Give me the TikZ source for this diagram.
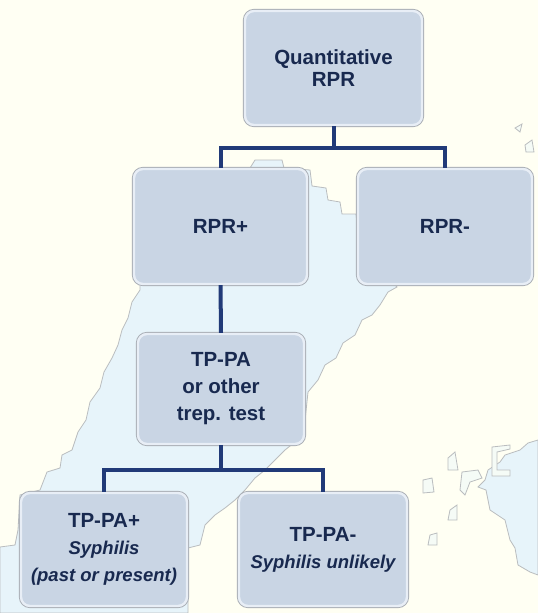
\documentclass[tikz,border=0pt]{standalone}
\usepackage{fontspec}
\setmainfont{Liberation Sans}
\definecolor{bgcream}{HTML}{FFFFF3}
\definecolor{mapblue}{HTML}{E7F4FA}
\definecolor{mapedge}{HTML}{BABDBF}
\definecolor{boxfill}{HTML}{C9D5E4}
\definecolor{boxwhite}{HTML}{E8EEF6}
\definecolor{boxedge}{HTML}{A8ADB4}
\definecolor{txt}{HTML}{18294F}
\definecolor{conncol}{HTML}{213A78}
\newcommand{\itlfont}{\fontsize{18.5}{27}\selectfont\bfseries\itshape}
\tikzset{
  boxnode/.style={rounded corners=9pt, fill=boxfill, draw=boxwhite, line width=2.4pt,
    preaction={draw=boxedge, line width=4.2pt}, text=txt, align=center, inner sep=0pt,
    font=\fontsize{20.5}{27}\selectfont\bfseries},
  conn/.style={draw=conncol, line width=4pt},
  landmass/.style={fill=mapblue, draw=mapedge, line width=0.8pt},
  islet/.style={fill=bgcream!60!mapblue, draw=mapedge, line width=0.8pt}
}
\begin{document}
\begin{tikzpicture}[x=1pt,y=-1pt]
\fill[bgcream] (0,0) rectangle (538,613);
\useasboundingbox (0,0) rectangle (538,613);
% map background
\path[landmass] (250,168) -- (255,160) -- (282,160) -- (284,168) -- (310,170) -- (312,186) -- (326,188)
  -- (328,200) -- (340,202) -- (342,214) -- (356,214) -- (360,250) -- (397,287) -- (388,292)
  -- (380,305) -- (372,315) -- (362,320) -- (355,335) -- (343,343) -- (336,358) -- (325,365)
  -- (318,380) -- (308,392) -- (303,440) -- (295,442) -- (285,450) -- (275,460) -- (265,470)
  -- (255,478) -- (245,490) -- (235,500) -- (225,508) -- (215,515) -- (205,525) -- (200,545)
  -- (188,548) -- (188,613) -- (0,613) -- (0,547) -- (15,545) -- (18,530) -- (20,495)
  -- (40,490) -- (47,472) -- (60,468) -- (62,455) -- (72,450) -- (78,432) -- (86,420)
  -- (90,402) -- (100,388) -- (104,372) -- (112,358) -- (118,345) -- (122,330) -- (128,318)
  -- (132,302) -- (140,290) -- (140,250) -- cycle;
\path[landmass] (538,440) -- (528,443) -- (520,450) -- (505,455) -- (500,462) -- (488,470)
  -- (485,480) -- (478,487) -- (486,490) -- (490,510) -- (505,520) -- (510,540) -- (515,548)
  -- (518,565) -- (530,572) -- (538,575) -- cycle;
\path[islet] (492,447) -- (510,445) -- (510,449) -- (497,452) -- (497,470) -- (510,470) -- (510,476) -- (492,476) -- cycle;
\path[islet] (448,458) -- (455,452) -- (458,470) -- (448,470) -- cycle;
\path[islet] (462,472) -- (478,470) -- (482,478) -- (470,482) -- (465,495) -- (460,490) -- cycle;
\path[islet] (423,480) -- (432,478) -- (434,492) -- (423,493) -- cycle;
\path[islet] (450,510) -- (457,505) -- (457,520) -- (448,520) -- cycle;
\path[islet] (430,535) -- (437,533) -- (437,545) -- (428,545) -- cycle;
\path[islet] (515,128) -- (522,124) -- (520,132) -- cycle;
\path[islet] (525,145) -- (532,140) -- (534,152) -- (526,152) -- cycle;
% boxes
\node[boxnode, minimum width=177pt, minimum height=114pt, font=\fontsize{20.5}{22}\selectfont\bfseries] (top) at (333.5,68) {Quantitative\\RPR};
\node[boxnode, minimum width=173pt, minimum height=115pt] (rprp) at (220.5,226.5) {RPR+};
\node[boxnode, minimum width=174pt, minimum height=115pt] (rprm) at (445,226.5) {RPR-};
\node[boxnode, minimum width=166pt, minimum height=110pt] (tppa) at (221,389) {TP-PA\\or other\\trep. test};
\node[boxnode, minimum width=166pt, minimum height=113pt] (tppap) at (104,549.5) {TP-PA+\\{\itlfont Syphilis}\\{\itlfont (past or present)}};
\node[boxnode, minimum width=168pt, minimum height=113pt] (tppam) at (323,549.5) {TP-PA-\\{\itlfont Syphilis unlikely}};
% connectors
\draw[conn] (top.south) -- ++(0,22) coordinate (b1);
\draw[conn] (rprp.north) |- (b1) -| (rprm.north);
\draw[conn] (rprp.south) -- (tppa.north);
\draw[conn] (tppa.south) -- ++(0,25) coordinate (b2);
\draw[conn] (tppap.north) |- (b2) -| (tppam.north);
\end{tikzpicture}
\end{document}
